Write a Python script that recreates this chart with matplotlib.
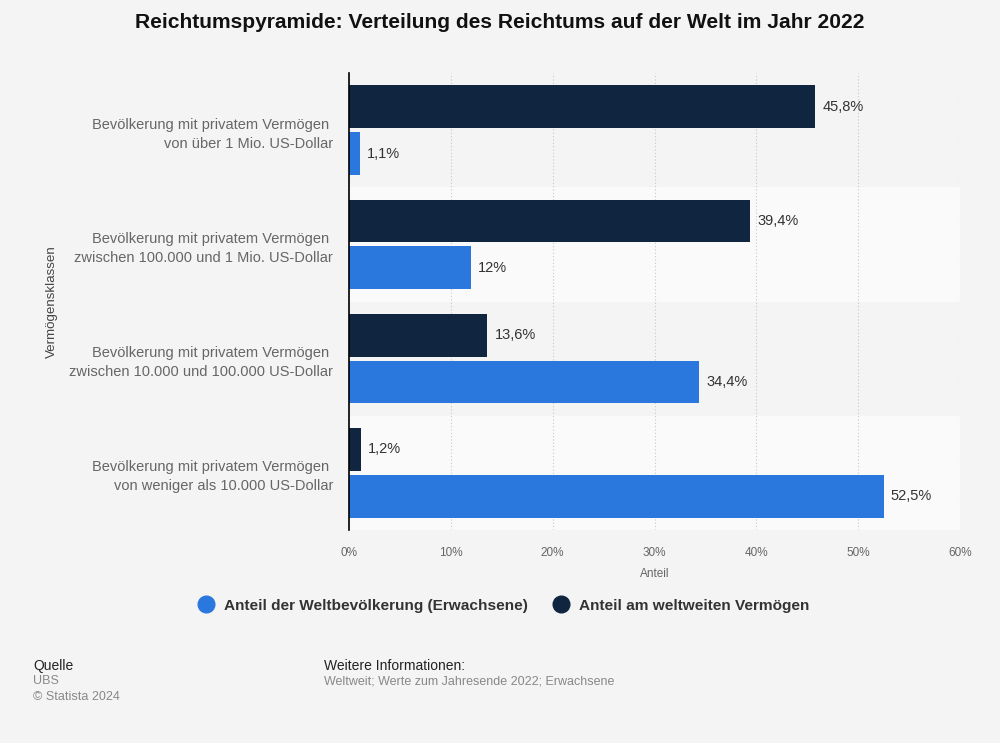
import matplotlib
matplotlib.use("Agg")
import matplotlib.pyplot as plt
import numpy as np
from matplotlib.lines import Line2D

plt.rcParams['font.family'] = ['Liberation Sans', 'DejaVu Sans']

categories = [
    "Bevölkerung mit privatem Vermögen \nvon über 1 Mio. US-Dollar",
    "Bevölkerung mit privatem Vermögen \nzwischen 100.000 und 1 Mio. US-Dollar",
    "Bevölkerung mit privatem Vermögen \nzwischen 10.000 und 100.000 US-Dollar",
    "Bevölkerung mit privatem Vermögen \nvon weniger als 10.000 US-Dollar",
]
vermoegen = [45.8, 39.4, 13.6, 1.2]
bevoelkerung = [1.1, 12.0, 34.4, 52.5]
vermoegen_labels = ["45,8%", "39,4%", "13,6%", "1,2%"]
bevoelkerung_labels = ["1,1%", "12%", "34,4%", "52,5%"]
xticks = [0, 10, 20, 30, 40, 50, 60]
xtick_labels = ["0%", "10%", "20%", "30%", "40%", "50%", "60%"]

BG = "#f4f4f4"
DARK = "#0f2540"
BLUE = "#2a78de"

fig = plt.figure(figsize=(10, 7.43), dpi=100, facecolor=BG)
ax = fig.add_axes([0.349, 0.2867, 0.611, 0.615])
ax.set_facecolor(BG)

y = np.arange(len(categories))
h = 0.375
off = 0.205

# alternating bands
for i in range(len(categories)):
    if i % 2 == 1:
        ax.axhspan(i - 0.5, i + 0.5, color="#fafafa", zorder=0, lw=0)

ax.barh(y - off, vermoegen, height=h, color=DARK, zorder=3)
ax.barh(y + off, bevoelkerung, height=h, color=BLUE, zorder=3)

for i in range(len(categories)):
    ax.text(vermoegen[i] + 0.7, y[i] - off, vermoegen_labels[i], va="center", ha="left",
            fontsize=10.5, color="#333333", zorder=4)
    ax.text(bevoelkerung[i] + 0.7, y[i] + off, bevoelkerung_labels[i], va="center", ha="left",
            fontsize=10.5, color="#333333", zorder=4)

ax.set_xlim(0, 60)
ax.set_ylim(3.5, -0.5)
ax.set_xticks(xticks)
ax.set_xticklabels(xtick_labels, fontsize=8.5, color="#666666")
ax.set_yticks(y)
ax.set_yticklabels(categories, fontsize=10.5, color="#666666", ha="right", linespacing=1.45)
ax.tick_params(axis="both", length=0)
ax.tick_params(axis="x", pad=12)
ax.tick_params(axis="y", pad=11.5)
ax.xaxis.grid(True, linestyle=(0, (1, 2)), color="#c8c8c8", linewidth=0.8, zorder=1)
ax.set_axisbelow(True)
for s in ["top", "right", "bottom"]:
    ax.spines[s].set_visible(False)
ax.spines["left"].set_color("#000000")
ax.spines["left"].set_linewidth(1.2)
ax.spines["left"].set_zorder(5)

ax.set_xlabel("Anteil", fontsize=8.5, color="#666666", labelpad=7)
fig.text(0.052, 0.594, "Vermögensklassen", rotation=90, fontsize=9.6, color="#444444",
         ha="center", va="center")

fig.text(0.5, 0.9695, "Reichtumspyramide: Verteilung des Reichtums auf der Welt im Jahr 2022",
         ha="center", va="center", fontsize=15.1, fontweight="bold", color="#111111")

handles = [
    Line2D([0], [0], marker="o", color="none", markerfacecolor=BLUE, markeredgecolor=BLUE,
           markersize=12, label="Anteil der Weltbevölkerung (Erwachsene)"),
    Line2D([0], [0], marker="o", color="none", markerfacecolor=DARK, markeredgecolor=DARK,
           markersize=12, label="Anteil am weltweiten Vermögen"),
]
leg = fig.legend(handles=handles, loc="center", bbox_to_anchor=(0.5, 0.185), ncol=2,
                 frameon=False, handletextpad=0.2, columnspacing=1.1,
                 prop={"weight": "bold", "size": 11.1})
for t in leg.get_texts():
    t.set_color("#333333")

fig.text(0.033, 0.104, "Quelle", fontsize=10, color="#222222", va="center")
fig.text(0.033, 0.083, "UBS", fontsize=9.0, color="#888888", va="center")
fig.text(0.033, 0.062, "© Statista 2024", fontsize=9.0, color="#888888", va="center")
fig.text(0.324, 0.104, "Weitere Informationen:", fontsize=10, color="#222222", va="center")
fig.text(0.324, 0.083, "Weltweit; Werte zum Jahresende 2022; Erwachsene", fontsize=9.0,
         color="#888888", va="center")

fig.savefig("out.png", dpi=100, facecolor=BG)
